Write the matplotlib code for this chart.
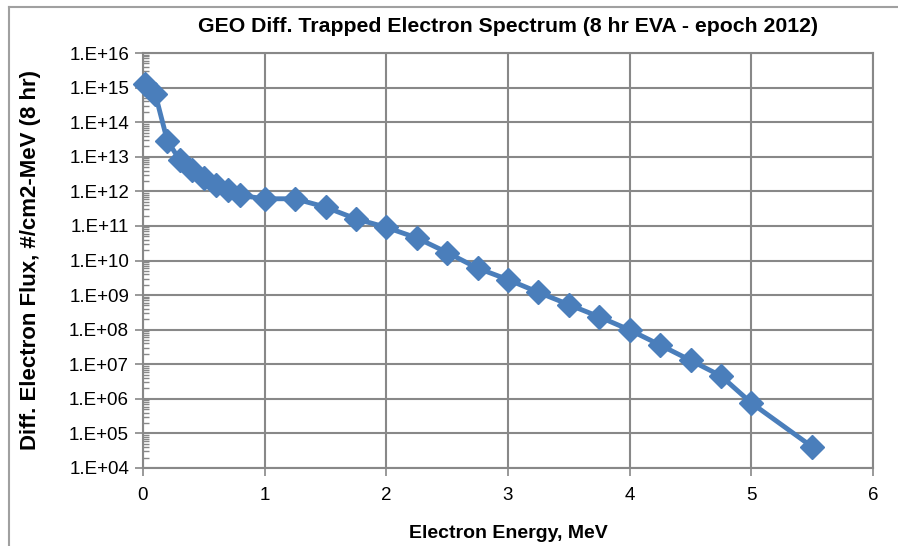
import numpy as np
import matplotlib.pyplot as plt
from matplotlib.lines import Line2D
from matplotlib.ticker import LogLocator, FixedLocator, FuncFormatter

plt.rcParams['font.family'] = ['Liberation Sans', 'DejaVu Sans']

# electron energy (MeV) and differential flux
energy = [0.02, 0.1, 0.2, 0.3, 0.4, 0.5, 0.6, 0.7, 0.8, 1.0, 1.25, 1.5, 1.75,
          2.0, 2.25, 2.5, 2.75, 3.0, 3.25, 3.5, 3.75, 4.0, 4.25, 4.5, 4.75,
          5.0, 5.5]
flux = [1.3e15, 6.7e14, 2.9e13, 8.3e12, 4.2e12, 2.4e12, 1.5e12, 1.1e12,
        7.6e11, 6.1e11, 6.1e11, 3.5e11, 1.6e11, 9.1e10, 4.5e10, 1.7e10,
        6.0e9, 2.8e9, 1.2e9, 5.3e8, 2.35e8, 9.8e7, 3.6e7, 1.3e7, 4.6e6,
        7.6e5, 4.1e4]

fig = plt.figure(figsize=(8.98, 5.46), dpi=100)
ax = fig.add_axes([143 / 898, 1 - 468 / 546, (873 - 143) / 898, (468 - 53) / 546])

blue = '#4a7ebb'
ax.plot(energy, flux, color=blue, lw=3.5, marker='D', ms=12,
        markerfacecolor=blue, markeredgecolor=blue, zorder=3, clip_on=False)

ax.set_yscale('log')
ax.set_xlim(0, 6)
ax.set_ylim(1e4, 1e16)
ax.yaxis.set_major_locator(FixedLocator([10.0 ** k for k in range(4, 17)]))
ax.yaxis.set_major_formatter(FuncFormatter(lambda v, p: '1.E+%02d' % round(np.log10(v))))
ax.yaxis.set_minor_locator(LogLocator(base=10, subs=np.arange(2, 10), numticks=100))
ax.set_xticks(range(0, 7))

grid_c = '#888888'
ax.grid(True, which='major', color=grid_c, lw=1.5)
ax.set_axisbelow(True)
for s in ax.spines.values():
    s.set_color(grid_c)
    s.set_linewidth(1.5)

ax.tick_params(axis='both', which='major', direction='out', length=6, width=1.2,
               color=grid_c, labelsize=13.5, labelcolor='black', pad=4)
ax.tick_params(axis='y', which='minor', direction='in', length=4, width=1,
               color=grid_c)
ax.tick_params(axis='x', which='major', pad=8)

ax.set_title('GEO Diff. Trapped Electron Spectrum (8 hr EVA - epoch 2012)',
             fontsize=15.3, fontweight='bold', pad=15)
ax.set_xlabel('Electron Energy, MeV', fontsize=14, fontweight='bold', labelpad=15)
ax.set_ylabel('Diff. Electron Flux, #/cm2-MeV (8 hr)', fontsize=16,
              fontweight='bold', labelpad=20)

# outer chart border (top and left)
fig.add_artist(Line2D([9 / 898, 9 / 898], [0, 1 - 7 / 546], transform=fig.transFigure,
                      color='#a0a0a0', lw=1.5))
fig.add_artist(Line2D([9 / 898, 1], [1 - 7 / 546, 1 - 7 / 546], transform=fig.transFigure,
                      color='#a0a0a0', lw=1.5))

fig.savefig('out.png', dpi=100)
